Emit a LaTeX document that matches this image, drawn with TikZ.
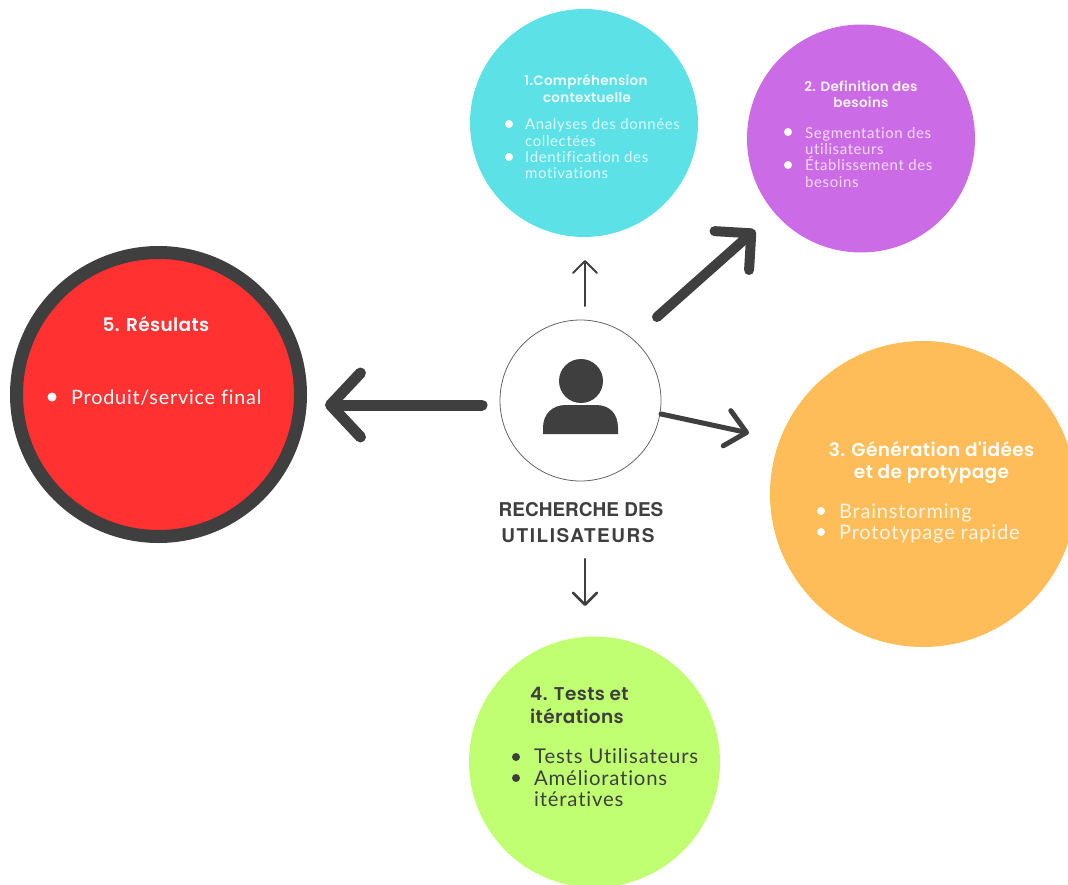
\documentclass[tikz,border=0pt]{standalone}
\usepackage{fontspec}
\setmainfont{Lato}
\newfontfamily\headfont{Poppins SemiBold}[LetterSpace=2]
\newfontfamily\bodyfont{Lato}[LetterSpace=4,Ligatures=NoCommon]
\newfontfamily\labelfont{TeX Gyre Heros}
\newfontfamily\labelwide{TeX Gyre Heros}[LetterSpace=8]
\usetikzlibrary{arrows.meta}
\definecolor{cyanc}{HTML}{5CE1E6}
\definecolor{purplec}{HTML}{CB6CE6}
\definecolor{orangec}{HTML}{FFBD59}
\definecolor{greenc}{HTML}{C1FF72}
\definecolor{redc}{HTML}{FF3131}
\definecolor{darkc}{HTML}{3F3F3F}
\tikzset{
  x=1pt,y=-1pt,
  stage/.style={circle,draw=none,inner sep=0pt,minimum size=#1},
  txt/.style={inner sep=0pt,anchor=mid west,text=#1},
  ctxt/.style={inner sep=0pt,anchor=mid,text=#1},
  dotb/.style={circle,inner sep=0pt,minimum size=#1},
  arr/.style={draw=darkc,line cap=round,line join=round},
  lowS/.style={yshift=-3pt},
  lowL/.style={yshift=-5pt},
}
\begin{document}
\begin{tikzpicture}
\useasboundingbox (0,0) rectangle (1068,885);
% stage circles
\node[stage=228pt,fill=cyanc] (c1) at (584,123) {};
\node[stage=228pt,fill=purplec] (c2) at (861,138.5) {};
\node[stage=306pt,fill=orangec] (c3) at (923,494) {};
\node[stage=251pt,fill=greenc] (c4) at (594.5,762) {};
\node[stage=284pt,fill=redc,draw=darkc,line width=13pt] (c5) at (158.5,394.5) {};
\node[stage=161pt,fill=white,draw=darkc!80,line width=0.8pt] (hub) at (580.5,400.5) {};
% person icon
\node[circle,fill=darkc,inner sep=0pt,minimum size=44pt] (head) at (581,381) {};
\fill[darkc] (543,434) -- (543,428) .. controls (543,414) and (552,405) .. (566,405)
  -- (596,405) .. controls (610,405) and (618,414) .. (618,428) -- (618,434) -- cycle;
% hub label
\node[ctxt=darkc,lowL,font=\labelfont\bfseries\fontsize{19}{24}\selectfont] (lab1) at (581,509) {RECHERCHE DES};
\node[ctxt=darkc,lowL,font=\labelwide\bfseries\fontsize{19}{24}\selectfont] (lab2) at (578,535) {UTILISATEURS};
% stages 1 and 2
\begin{scope}[every node/.append style={font=\headfont\fontsize{13.5}{16}\selectfont}]
\node[ctxt=white!90!cyanc,lowS] (t1a) at (586,80) {1.Compréhension};
\node[ctxt=white!90!cyanc,lowS] (t1b) at (587,97) {contextuelle};
\node[ctxt=white!90!purplec,lowS] (t2a) at (861,86) {2. Definition des};
\node[ctxt=white!90!purplec,lowS] (t2b) at (861,102) {besoins};
\end{scope}
\begin{scope}[every node/.append style={font=\bodyfont\fontsize{15}{16}\selectfont}]
\node[dotb=8pt,fill=white] (b1a) at (509,124) {};
\node[dotb=8pt,fill=white] (b1b) at (509,157) {};
\node[txt=white!80!cyanc,lowS] (l1a) at (525,124) {Analyses des données};
\node[txt=white!80!cyanc,lowS] (l1b) at (525,141) {collectées};
\node[txt=white!80!cyanc,lowS] (l1c) at (525,157) {Identification des};
\node[txt=white!80!cyanc,lowS] (l1d) at (525,173) {motivations};
\node[dotb=8pt,fill=white] (b2a) at (788,132) {};
\node[dotb=8pt,fill=white] (b2b) at (788,165) {};
\node[txt=white!75!purplec,lowS] (l2a) at (805,133) {Segmentation des};
\node[txt=white!75!purplec,lowS] (l2b) at (805,149) {utilisateurs};
\node[txt=white!75!purplec,lowS] (l2c) at (805,165) {Établissement des};
\node[txt=white!75!purplec,lowS] (l2d) at (805,182) {besoins};
\end{scope}
% stage 3
\node[ctxt=white,lowL,font=\headfont\fontsize{18.5}{22}\selectfont] (t3a) at (931.5,449) {3. Génération d'idées};
\node[ctxt=white,lowL,font=\headfont\fontsize{18.5}{22}\selectfont] (t3b) at (931.5,471) {et de protypage};
\node[dotb=8pt,fill=white] (b3a) at (821,511) {};
\node[dotb=8pt,fill=white] (b3b) at (821,532) {};
\node[txt=white!85!orangec,lowL,font=\bodyfont\fontsize{20}{22}\selectfont] (l3a) at (839,511) {Brainstorming};
\node[txt=white!85!orangec,lowL,font=\bodyfont\fontsize{20}{22}\selectfont] (l3b) at (839,532) {Prototypage rapide};
% stage 4
\node[txt=darkc,lowL,font=\headfont\fontsize{18.5}{22}\selectfont] (t4a) at (530,693) {4. Tests et};
\node[txt=darkc,lowL,font=\headfont\fontsize{18.5}{22}\selectfont] (t4b) at (530,716) {itérations};
\node[dotb=8pt,fill=darkc] (b4a) at (516,757) {};
\node[dotb=8pt,fill=darkc] (b4b) at (516,778) {};
\node[txt=darkc,lowL,font=\bodyfont\fontsize{20.3}{22}\selectfont] (l4a) at (534,756) {Tests Utilisateurs};
\node[txt=darkc,lowL,font=\bodyfont\fontsize{20.3}{22}\selectfont] (l4b) at (534,778) {Améliorations};
\node[txt=darkc,lowL,font=\bodyfont\fontsize{20.3}{22}\selectfont] (l4c) at (534,799) {itératives};
% stage 5
\node[ctxt=white,lowL,font=\headfont\fontsize{18.5}{22}\selectfont] (t5a) at (156,324) {5. Résulats};
\node[dotb=9pt,fill=white] (b5a) at (52,397) {};
\node[txt=white,lowL,font=\bodyfont\fontsize{19.8}{22}\selectfont] (l5a) at (71,397) {Produit/service final};
% connector ends
\coordinate (a1s) at (585,306); \coordinate (a1e) at (585,260);
\coordinate (a2s) at (657,317); \coordinate (a2e) at (755,230);
\coordinate (a3s) at (661,414); \coordinate (a3e) at (749,433);
\coordinate (a4s) at (585,559); \coordinate (a4e) at (585,606);
\coordinate (a5s) at (482,405); \coordinate (a5e) at (325,405);
\draw[arr,line width=2pt,-{Straight Barb[round,length=12pt,width=24pt]}] (a1s) -- (a1e);
\draw[arr,line width=10pt,-{Straight Barb[round,length=26pt,width=52pt]}] (a2s) -- (a2e);
\draw[arr,line width=5pt,-{Straight Barb[round,length=20pt,width=36pt]}] (a3s) -- (a3e);
\draw[arr,line width=2.5pt,-{Straight Barb[round,length=12pt,width=24pt]}] (a4s) -- (a4e);
\draw[arr,line width=11pt,-{Straight Barb[round,length=30pt,width=64pt]}] (a5s) -- (a5e);
\end{tikzpicture}
\end{document}
